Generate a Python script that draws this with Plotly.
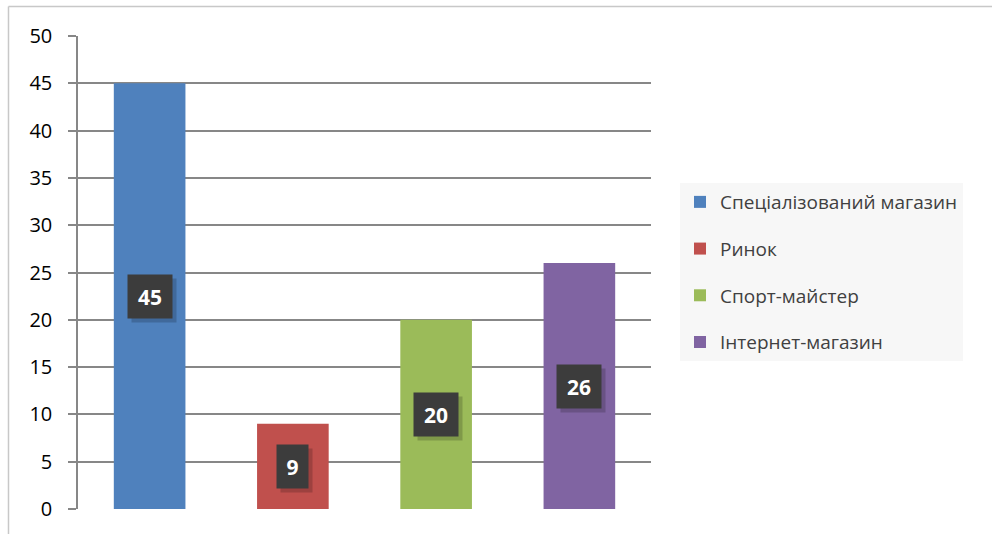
import plotly.graph_objects as go

# Survey results: where respondents buy sports goods
categories = ["Спеціалізований магазин", "Ринок", "Спорт-майстер", "Інтернет-магазин"]
values = [45, 9, 20, 26]
colors = ["#4F81BD", "#C0504D", "#9BBB59", "#8064A2"]
y_ticks = [0, 5, 10, 15, 20, 25, 30, 35, 40, 45, 50]

fig = go.Figure()
for i, (cat, val, col) in enumerate(zip(categories, values, colors)):
    fig.add_trace(go.Bar(
        x=[cat], y=[val], name=cat, marker=dict(color=col, line=dict(width=0)),
        width=0.5, legendgroup=f"g{i}", hoverinfo="x+y",
    ))

# Dark value callouts in the middle of each bar, with a soft drop shadow
annotations = []
for cat, val in zip(categories, values):
    w = 13 * len(str(val))
    annotations.append(dict(
        x=cat, y=val / 2, xref="x", yref="y", text=" ", showarrow=False,
        width=w, height=25, font=dict(size=21),
        bgcolor="rgba(0,0,0,0.18)", borderpad=9, xshift=4, yshift=-4,
    ))
    annotations.append(dict(
        x=cat, y=val / 2, xref="x", yref="y", text=f"<b>{val}</b>", showarrow=False,
        width=w, height=25,
        font=dict(family="Open Sans", size=21, color="#FFFFFF"),
        bgcolor="#3C3C3C", borderpad=9,
    ))

# Outer frame lines along the top and left edge
shapes = [
    dict(type="line", xref="paper", yref="paper", x0=-0.1213, x1=1.6, y0=1.0624, y1=1.0624,
         line=dict(color="#C8C8C8", width=1.5)),
    dict(type="line", xref="paper", yref="paper", x0=-0.1213, x1=-0.1213, y0=-0.1, y1=1.0624,
         line=dict(color="#C8C8C8", width=1.5)),
]

fig.update_layout(
    width=992, height=534,
    margin=dict(l=78, r=341, t=36, b=25),
    paper_bgcolor="#FFFFFF", plot_bgcolor="#FFFFFF",
    barmode="overlay",
    showlegend=True,
    legend=dict(
        x=1.0506, y=0.501, xanchor="left", yanchor="middle",
        bgcolor="#F7F7F7", font=dict(family="Open Sans", size=19, color="#404040"),
        tracegroupgap=19, traceorder="grouped", itemclick=False,
    ),
    xaxis=dict(showticklabels=False, showgrid=False, zeroline=False, showline=False,
               ticks="", range=[-0.5, 3.5]),
    yaxis=dict(range=[0, 50], tickvals=y_ticks, showgrid=True, gridcolor="#878787",
               gridwidth=1.5, showline=True, linecolor="#878787", linewidth=1.5,
               ticks="outside", ticklen=8, tickcolor="#878787", tickwidth=1.5,
               ticklabelstandoff=12,
               zeroline=False, tickfont=dict(family="Open Sans", size=20, color="#000000")),
    annotations=annotations,
    shapes=shapes,
)

fig.write_html("out.html")
